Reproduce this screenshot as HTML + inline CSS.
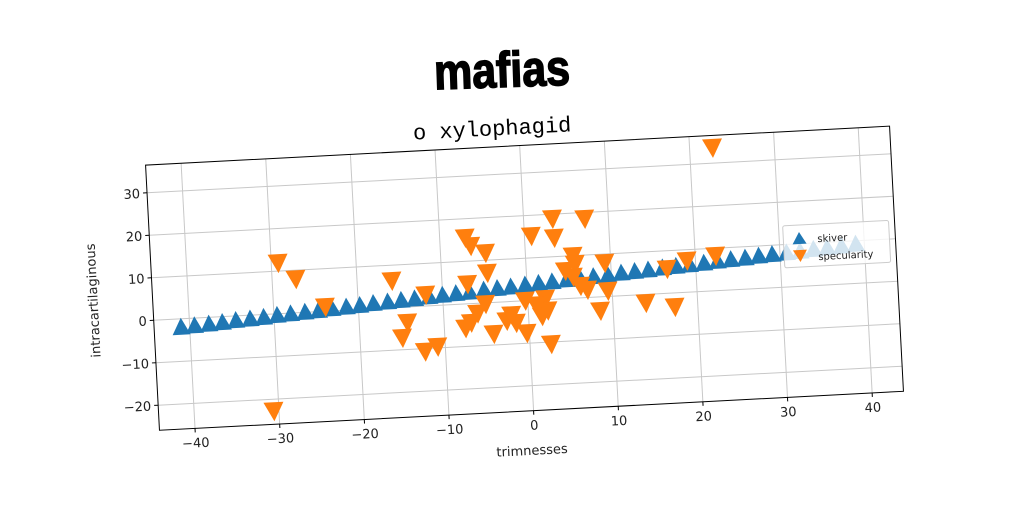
<!DOCTYPE html>
<html><head><meta charset="utf-8"><style>
html,body{margin:0;padding:0;background:#fff;width:1024px;height:512px;overflow:hidden}
svg text{font-family:"DejaVu Sans","Liberation Sans",sans-serif}
</style></head><body>
<svg id="chart" width="1024" height="512" viewBox="0 0 1024 512" xmlns="http://www.w3.org/2000/svg">
<text x="502" y="87" text-anchor="middle" transform="rotate(-2,502,72)" style="font-family:'Liberation Sans',sans-serif;font-weight:bold;font-size:50px" fill="#000" stroke="#000" stroke-width="1.5" textLength="136" lengthAdjust="spacingAndGlyphs">mafias</text>
<g id="rot" transform="rotate(-3,524,278)"></g>
</svg>
<script>
const xTicks=[-40,-30,-20,-10,0,10,20,30,40];
const yTicks=[-20,-10,0,10,20,30];
const skiverX=[-41,-39.4,-37.7,-36.1,-34.5,-32.8,-31.2,-29.6,-28,-26.3,-24.7,-23.1,-21.4,-19.8,-18.2,-16.5,-14.9,-13.3,-11.6,-10,-8.4,-6.8,-5.1,-3.5,-1.9,-0.2,1.4,3,4.7,6.3,7.9,9.6,11.2,12.8,14.4,16.1,17.7,19.3,21,22.6,24.2,25.9,27.5,29.1,30.8,32.4,34,35.6,37.3,39];
const skiverY=[-2.1,-1.9,-1.7,-1.5,-1.2,-1,-0.8,-0.5,-0.3,-0.1,0.1,0.4,0.6,0.8,1.1,1.3,1.5,1.7,2,2.2,2.4,2.6,2.9,3.1,3.3,3.6,3.8,4,4.3,4.5,4.7,4.9,5.2,5.4,5.6,5.9,6.1,6.3,6.5,6.8,7,7.2,7.5,7.7,7.9,8.1,8.4,8.6,8.8,9.1];
const specX=[-29.2,-27.2,-23.9,-15.9,-12,-14.3,-15,-12.4,-10.9,-7,-6.4,-4.7,-7,-4.6,-5,-6.8,-6,-4.2,-2.6,-1.5,-0.3,0.8,-0.3,3.4,7.2,3.5,4.6,5.6,5.8,5.5,2.1,2.3,1.6,2.5,6.3,7.1,9.3,9.5,8.5,13.9,16.6,17.3,19,22.4,22.7,-30.6,-7.5,-2,1];
const specY=[12.1,8.1,1.2,6.5,2.8,-3.5,-7,-10.5,-9.5,15.7,13.7,11.9,4.8,7.2,-0.1,-4.3,-2.2,-7.2,-4.3,-4.9,0.2,15.3,-7.4,19.1,18.7,14.6,6.7,10.1,8.2,5.2,0.4,-2.4,-3.6,-10.3,3,2,8.1,1.5,-3.1,-1.8,5.9,-3.1,7.6,8.4,33.8,-22.6,-5.5,-3,-1];
const L=152,R=897,T=145.5,B=411,X0=-44.2,X1=43.7,Y0=-25.9,Y1=36.5;
const sx=v=>L+(v-X0)/(X1-X0)*(R-L);
const sy=v=>B-(v-Y0)/(Y1-Y0)*(B-T);
const NS="http://www.w3.org/2000/svg";
const g=document.getElementById('rot');
function mk(tag,attrs,parent){const e=document.createElementNS(NS,tag);for(const k in attrs)e.setAttribute(k,attrs[k]);(parent||g).appendChild(e);return e;}
const grid=mk('g',{});


xTicks.forEach(t=>{const x=sx(t);
 const l=mk('line',{x1:x,x2:x,y1:T,y2:B,stroke:'#c8c8c8','stroke-width':1},grid);
 
 
 mk('line',{x1:x,x2:x,y1:B,y2:B+4,stroke:'#000'});
 const tx=mk('text',{x:x,y:B+19,'text-anchor':'middle','font-size':13,fill:'#222'});
 tx.textContent=(t<0?'\u2212':'')+Math.abs(t);
 
 
});
yTicks.forEach(t=>{const y=sy(t);
 const l=mk('line',{x1:L,x2:R,y1:y,y2:y,stroke:'#c8c8c8','stroke-width':1},grid);
 
 
 mk('line',{x1:L-4,x2:L,y1:y,y2:y,stroke:'#000'});
 const tx=mk('text',{x:L-7,y:y+5,'text-anchor':'end','font-size':13,fill:'#222'});
 tx.textContent=(t<0?'\u2212':'')+Math.abs(t);
 
 
});
const s1=mk('g',{fill:'#1f77b4'});


skiverX.forEach((v,i)=>{const x=sx(v),y=sy(skiverY[i]);
 const p=mk('path',{d:`M${x},${y-10}L${x+9},${y+7}L${x-9},${y+7}Z`},s1);
 
 
});
const s2=mk('g',{fill:'#ff7f0e'});


specX.forEach((v,i)=>{const x=sx(v),y=sy(specY[i]);
 const p=mk('path',{d:`M${x-10},${y-8}L${x+10},${y-8}L${x},${y+11}Z`},s2);
 
 
});
const fr=mk('rect',{x:L,y:T,width:R-L,height:B-T,fill:'none',stroke:'#000','stroke-width':1});


const lg=mk('g',{});


mk('rect',{x:R-112,y:T+94,width:106,height:42,fill:'#fff','fill-opacity':0.8,stroke:'#ccc',rx:2},lg);
mk('path',{d:`M${R-96},${T+101}L${R-89},${T+113}L${R-103},${T+113}Z`,fill:'#1f77b4'},lg);
const l1=mk('text',{x:R-78,y:T+112,'font-size':10,fill:'#222'},lg);l1.textContent='skiver';


mk('path',{d:`M${R-103},${T+119}L${R-89},${T+119}L${R-96},${T+131}Z`,fill:'#ff7f0e'},lg);
const l2=mk('text',{x:R-78,y:T+130,'font-size':10,fill:'#222'},lg);l2.textContent='specularity';


const ti=mk('text',{x:500,y:134,'text-anchor':'middle','font-size':22,fill:'#000',style:"font-family:'Liberation Mono',monospace"});
ti.textContent='o xylophagid';


const xl=mk('text',{x:523,y:455,'text-anchor':'middle','font-size':13,fill:'#222'});
xl.textContent='trimnesses';


const yl=mk('text',{x:97,y:278,'text-anchor':'middle','font-size':13,fill:'#222',transform:'rotate(-90,97,278)'});
yl.textContent='intracartilaginous';


</script>
</body></html>
